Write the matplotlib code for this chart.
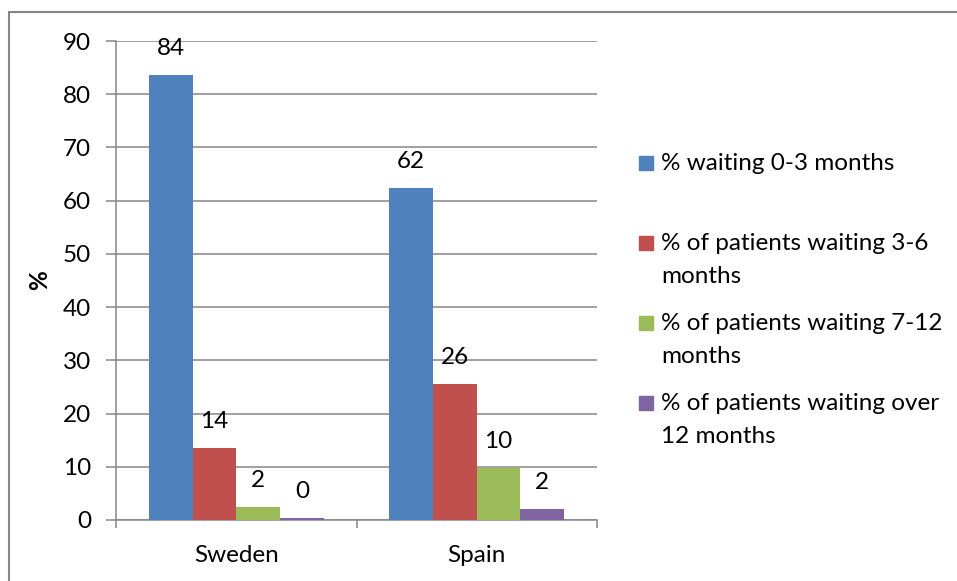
import matplotlib.pyplot as plt
from matplotlib.patches import Rectangle

# --- data ---
countries = ['Sweden', 'Spain']
series_names = ['% waiting 0-3 months',
                '% of patients waiting 3-6\nmonths',
                '% of patients waiting 7-12\nmonths',
                '% of patients waiting over\n12 months']
wait_0_3 = [83.6, 62.4]
wait_3_6 = [13.6, 25.6]
wait_7_12 = [2.4, 9.7]
wait_over_12 = [0.4, 2.0]
colors = ['#4F81BD', '#C0504D', '#9BBB59', '#8064A2']

plt.rcParams['font.family'] = ['Lato', 'DejaVu Sans']
FS = 17.5

fig = plt.figure(figsize=(9.57, 5.81), dpi=100)
ax = fig.add_axes([116 / 957, 1 - 520 / 581, (597 - 116) / 957, (520 - 41) / 581])

# outer chart border (runs off right and bottom)
fig.patches.append(Rectangle((9 / 957, -0.1), 1.2, 1 - 12 / 581 + 0.1,
                             transform=fig.transFigure, fill=False,
                             edgecolor='#868686', linewidth=1.5))

all_series = [wait_0_3, wait_3_6, wait_7_12, wait_over_12]
w = 1 / 5.5
for i, vals in enumerate(all_series):
    xs = [k + 0.5 + (i - 1.5) * w for k in range(len(countries))]
    bars = ax.bar(xs, vals, width=w, color=colors[i], zorder=3)
    for b, v in zip(bars, vals):
        ax.annotate(f'{v:.0f}', (b.get_x() + b.get_width() / 2, v),
                    xytext=(0, 19), textcoords='offset points',
                    ha='center', va='center', fontsize=FS)

ax.set_xlim(0, 2)
ax.set_ylim(0, 90)
ax.set_yticks(range(0, 91, 10))
ax.yaxis.grid(True, color='#868686', linewidth=1.1, zorder=0)
ax.set_xticks([0.5, 1.5])
ax.set_xticklabels(countries)
ax.set_xticks([0, 1, 2], minor=True)
ax.tick_params(axis='x', which='major', length=0, pad=18, labelsize=FS)
ax.tick_params(axis='x', which='minor', length=6, color='#868686', width=1.1)
ax.tick_params(axis='y', length=7, color='#868686', width=1.1, pad=11, labelsize=FS)
for s in ['top', 'right']:
    ax.spines[s].set_visible(False)
for s in ['left', 'bottom']:
    ax.spines[s].set_color('#868686')
    ax.spines[s].set_linewidth(1.1)

fig.text(40 / 957, 1 - 280 / 581, '%', rotation=90, ha='center', va='center',
         fontsize=FS, fontweight='bold')

# legend drawn by hand
leg_y = [163, 243, 323, 403]
for name, c, y in zip(series_names, colors, leg_y):
    fig.patches.append(Rectangle((639 / 957, 1 - (y + 7) / 581), 14 / 957, 14 / 581,
                                 transform=fig.transFigure, color=c))
    fig.text(661 / 957, 1 - (y - 10) / 581, name, ha='left', va='top',
             fontsize=FS, linespacing=1.72)

fig.savefig('out.png', dpi=100)
